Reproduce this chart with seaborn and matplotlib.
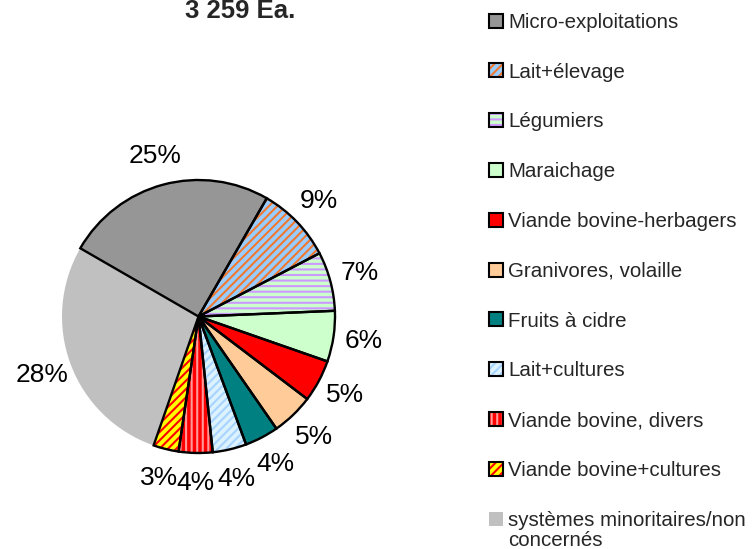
import matplotlib
matplotlib.use("Agg")
import matplotlib.pyplot as plt
from matplotlib.patches import Wedge, Rectangle
import seaborn as sns

# Style
sns.set_theme(style="white")
plt.rcParams['font.family'] = ['Liberation Sans', 'DejaVu Sans']
plt.rcParams['hatch.linewidth'] = 1.5

# Data (parts in %, total 3 259 exploitations)
categories = ['Micro-exploitations', 'Lait+élevage', 'Légumiers', 'Maraichage',
              'Viande bovine-herbagers', 'Granivores, volaille', 'Fruits à cidre',
              'Lait+cultures', 'Viande bovine, divers', 'Viande bovine+cultures',
              'systèmes minoritaires/non\nconcernés']
values = [25, 9, 7, 6, 5, 5, 4, 4, 4, 3, 28]
fill_colors = ['#969696', '#99CCFF', '#CCFFCC', '#CCFFCC', '#FF0000', '#FFCC99',
               '#008080', '#DDF2FF', '#FF0000', '#FFFF00', '#C0C0C0']
hatches = [None, '////', '---', None, None, None, None, '////', '|||', '////', None]
hatch_colors = [None, '#F07830', '#CC99FF', None, None, None, None, '#A6D4FF',
                '#FF9999', '#FF0000', None]
outlined = [True] * 10 + [False]

W, H = 756, 549
fig = plt.figure(figsize=(W / 100, H / 100), dpi=100)

# Pie: centre (198.5, 316.5) px, radius 136.5 px
R = 136.5
lim = 1.4
size = R * lim * 2
ax = fig.add_axes([(198.5 - size / 2) / W, (H - 316.5 - size / 2) / H, size / W, size / H])

wedges, texts, autotexts = ax.pie(values, colors=fill_colors, startangle=150,
                                  counterclock=False, autopct=lambda p: f'{p:.0f}%',
                                  pctdistance=1.22, wedgeprops=dict(linewidth=0),
                                  textprops=dict(fontsize=19, color='black'))

for w, h, hc, out in zip(wedges, hatches, hatch_colors, outlined):
    if h:
        w.set_hatch(h)
        w.set_edgecolor(hc)
        w.set_linewidth(0)
    if out:
        ax.add_patch(Wedge(w.center, w.r, w.theta1, w.theta2, facecolor='none',
                           edgecolor='black', linewidth=1.7, zorder=3))

ax.set_xlim(-lim, lim)
ax.set_ylim(-lim, lim)
ax.set_aspect('equal')
ax.axis('off')

# Title
fig.text(240 / W, 1 - 18 / H, '3 259 Ea.', ha='center', va='baseline',
         fontsize=18.5, fontweight='bold')

# Legend (drawn by hand to match the spacing of the original)
for i, (lab, fc, h, hc, out) in enumerate(zip(categories, fill_colors, hatches,
                                               hatch_colors, outlined)):
    yc = 20.5 + 49.8 * i
    x0, s = 489, 14
    rect = Rectangle((x0 / W, 1 - (yc + s / 2) / H), s / W, s / H,
                     transform=fig.transFigure, facecolor=fc,
                     edgecolor=hc if h else 'none', hatch=h, linewidth=0)
    fig.patches.append(rect)
    if out:
        fig.patches.append(Rectangle((x0 / W, 1 - (yc + s / 2) / H), s / W, s / H,
                                     transform=fig.transFigure, facecolor='none',
                                     edgecolor='black', linewidth=1.5))
    for j, line in enumerate(lab.split('\n')):
        fig.text(508 / W, 1 - (yc + 7.3 + 20.5 * j) / H, line, ha='left',
                 va='baseline', fontsize=14.8)

fig.savefig('out.png', dpi=100)
